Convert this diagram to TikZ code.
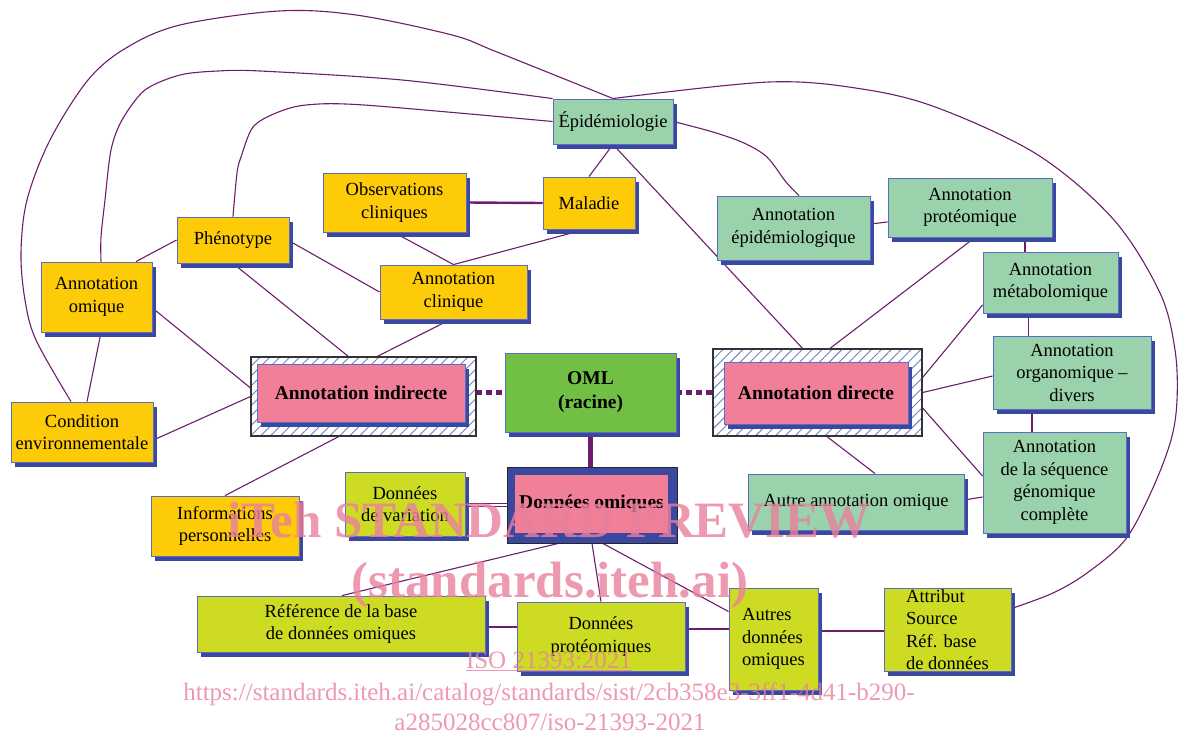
\documentclass[tikz,border=0pt]{standalone}
\usepackage{fontspec}
\setmainfont{Liberation Serif}
\usetikzlibrary{shadows,patterns.meta,backgrounds}
\definecolor{yel}{HTML}{FECB08}
\definecolor{mint}{HTML}{9AD2AB}
\definecolor{lime}{HTML}{CEDB23}
\definecolor{pinkc}{HTML}{F07F97}
\definecolor{omlg}{HTML}{71BF44}
\definecolor{shblue}{HTML}{3A48A0}
\definecolor{bord}{HTML}{5A6CC4}
\definecolor{linec}{HTML}{6C1D6E}
\definecolor{hatchc}{HTML}{6A80CC}
\definecolor{wm}{HTML}{E9809C}
\newcommand\dfont{\fontsize{18.5}{22.5}\selectfont}
\newcommand\bfont{\fontsize{19.5}{24}\selectfont\bfseries}
\tikzset{
  base/.style={draw=bord, line width=0.9pt, inner sep=0pt, align=center, font=\dfont,
    drop shadow={shadow xshift=4pt, shadow yshift=-5pt, fill=shblue, opacity=1}},
  yelbox/.style={base, fill=yel},
  mintbox/.style={base, fill=mint},
  limebox/.style={base, fill=lime},
  pinkbox/.style={base, fill=pinkc, font=\bfont},
  omlbox/.style={base, fill=omlg, font=\bfont},
  hatchbox/.style={draw=black!80, line width=1.2pt, inner sep=0pt, preaction={fill=white},
    pattern={Lines[angle=45,distance=7pt,line width=0.9pt]}, pattern color=hatchc},
  sz/.style 2 args={minimum width=#1pt, minimum height=#2pt},
  conn/.style={draw=linec, line width=1.1pt},
  thickdot/.style={draw=linec, line width=5pt, dash pattern=on 6pt off 4pt},
  wmtext/.style={text=wm, text opacity=0.8, inner sep=0pt, anchor=base},
}
\begin{document}
\begin{tikzpicture}[x=1pt,y=-1pt]
\useasboundingbox (0,0) rectangle (1178,736);
% yellow nodes
\node[yelbox, sz={111}{70}] (omi) at (96.5,297) {Annotation\\omique};
\node[yelbox, sz={112}{46}] (phe) at (233,240) {Phénotype};
\node[yelbox, sz={143}{59}] (obs) at (394.5,202.5) {Observations\\cliniques};
\node[yelbox, sz={92}{52}] (mal) at (589,203) {Maladie};
\node[yelbox, sz={147}{54}] (cli) at (453.5,292) {Annotation\\clinique};
\node[yelbox, sz={142}{60}] (cond) at (82,432) {Condition\\environnementale};
\node[yelbox, sz={148}{60}] (info) at (225,526) {Informations\\personnelles};
% mint nodes
\node[mintbox, sz={120}{45}] (epi) at (613,121.5) {Épidémiologie};
\node[mintbox, sz={153}{64}] (aepi) at (793.5,228) {Annotation\\épidémiologique};
\node[mintbox, sz={164}{59}] (prot) at (970,207.5) {Annotation\\protéomique};
\node[mintbox, sz={135}{61}] (meta) at (1050.5,282.5) {Annotation\\métabolomique};
\node[mintbox, sz={158}{73}] (orga) at (1072,372.5) {Annotation\\organomique –\\divers};
\node[mintbox, sz={143}{101}] (seq) at (1054.5,482.5) {Annotation\\de la séquence\\génomique\\complète};
\node[mintbox, sz={216}{56}] (autre) at (856,502) {Autre annotation omique};
% hatched frames
\node[hatchbox, sz={225}{79}] (indO) at (363.5,396.5) {};
\node[pinkbox, sz={208}{58}] (ind) at (361,393) {Annotation indirecte};
\node[hatchbox, sz={209}{87}] (dirO) at (817.5,392.5) {};
\node[pinkbox, sz={184}{62}] (dir) at (816,393) {Annotation directe};
% root
\node[omlbox, sz={171}{79}] (oml) at (590.5,392.5) {OML\\(racine)};
\node[draw=black!85, line width=1pt, fill=shblue, inner sep=0pt, sz={170}{76}] (domiO) at (592,505) {};
\node[fill=pinkc, inner sep=0pt, font=\bfont, sz={153}{58}] (domi) at (591.5,504) {Données omiques};
% lime nodes
\node[limebox, sz={120}{64}] (var) at (405,504) {Données\\de variation};
\node[limebox, sz={288}{56}] (ref) at (341,624) {Référence de la base\\de données omiques};
\node[limebox, sz={168}{69}] (dprot) at (601,636.5) {Données\\protéomiques};
\node[limebox, sz={89}{102}, align=left] (adom) at (773.5,639) {Autres\\données\\omiques};
\node[limebox, sz={127}{83}, align=left] (attr) at (947.5,629.5) {Attribut\\Source\\Réf. base\\de données};
% helper coordinates
\coordinate (attrC) at ([yshift=-21pt]attr.north east);
\coordinate (condC) at ([xshift=-11pt]cond.north);
\coordinate (omiC) at ([xshift=4.5pt]omi.north);
\coordinate (aepiC) at ([xshift=5.5pt]aepi.north);
\begin{scope}[on background layer]
% curves
\draw[conn] plot[smooth, tension=0.55] coordinates {(epi.north) (769,82) (862,89) (938,108) (1038,155) (1114,220) (1160,293) (1175,350) (1177,400) (1171,440) (1152,490) (1125,540) (1087,573) (1053,593) (attrC)};
\draw[conn] plot[smooth, tension=0.55] coordinates {(epi.north) (497,52) (452,35) (356,15) (279,11) (180,25) (126,48) (88,80) (50,140) (27,200) (21,253) (25,300) (36,340) (condC)};
\draw[conn] plot[smooth, tension=0.5] coordinates {(epi.north west) (402,80) (260,71) (218,71) (180,75) (145,90) (122,120) (111,150) (105,200) (101,237) (omiC)};
\draw[conn] plot[smooth, tension=0.5] coordinates {(epi.west) (364,105) (306,105) (276,113) (253,127) (241,157) (237,173) (phe.north)};
\draw[conn] plot[smooth, tension=0.5] coordinates {(epi.east) (713,132) (744,143) (767,157) (786,182) (aepiC)};
% straight connectors
\draw[conn] (epi.south) -- (mal.north);
\draw[conn] (epi.south) -- ([xshift=-15pt]dirO.north);
\draw[conn, line width=2.4pt] (obs.east) -- (mal.west);
\draw[conn] ([xshift=-0.5pt]obs.south) -- (cli.north);
\draw[conn] ([xshift=-4pt]mal.south) -- (cli.north);
\draw[conn] (phe.west) -- ([xshift=39.5pt]omi.north);
\draw[conn] ([yshift=-1pt]phe.east) -- (cli.west);
\draw[conn] (phe.south) -- ([xshift=-15pt]indO.north);
\draw[conn] ([xshift=-3pt]cli.south) -- ([xshift=13.5pt]indO.north);
\draw[conn] ([yshift=-11pt]omi.east) -- ([yshift=8.5pt]indO.west);
\draw[conn] ([xshift=4.5pt]omi.south) -- ([xshift=5pt]cond.north);
\draw[conn] ([yshift=-8pt]cond.east) -- (indO.west);
\draw[conn] ([xshift=-24.5pt]indO.south) -- (info.north);
\draw[thickdot] (indO.east |- oml.west) -- (oml.west);
\draw[thickdot] (oml.east) -- (dirO.west |- oml.east);
\draw[draw=linec, line width=4.5pt] (oml.south) -- (oml.south |- domiO.north);
\draw[draw=linec, line width=0.8pt, double=white, double distance=1.6pt] (var.east |- domiO.west) -- (domiO.west);
\draw[conn] ([xshift=-34pt]domiO.south) -- ([xshift=1pt]ref.north);
\draw[conn] (domiO.south) -- (dprot.north);
\draw[conn] ([xshift=11pt]domiO.south) -- ([yshift=-24pt]adom.north west);
\draw[conn] ([yshift=-3pt]ref.east) -- ([yshift=-3pt]ref.east -| dprot.west);
\draw[conn] ([yshift=7.5pt]dprot.east) -- ([yshift=7.5pt]dprot.east -| adom.west);
\draw[conn] ([yshift=8pt]adom.east) -- ([yshift=8pt]adom.east -| attr.west);
\draw[conn] ([xshift=9.5pt]dirO.south) -- ([xshift=19pt]autre.north);
\draw[conn] ([xshift=12.5pt]dirO.north) -- ([xshift=5pt]prot.south);
\draw[conn] ([yshift=15pt]dirO.east) -- ([yshift=-22.5pt]meta.west);
\draw[conn] (dirO.east) -- ([yshift=-3.5pt]orga.west);
\draw[conn] ([yshift=-15.5pt]dirO.east) -- ([yshift=6.5pt]seq.west);
\draw[conn] ([yshift=2pt]autre.east) -- ([yshift=-14.5pt]seq.west);
\draw[conn] ([yshift=4pt]aepi.east) -- ([yshift=-14.5pt]prot.west);
\draw[conn] ([xshift=55pt]prot.south) -- ([xshift=55pt]prot.south |- meta.north);
\draw[conn] ([xshift=-22pt]meta.south) -- ([xshift=-22pt]meta.south |- orga.north);
\draw[conn] ([xshift=-40pt]orga.south) -- ([xshift=-40pt]orga.south |- seq.north);
\end{scope}
% watermark
\node[wmtext, font=\fontsize{51}{55}\selectfont\bfseries] (wm1) at (549,537) {iTeh STANDARD PREVIEW};
\node[wmtext, font=\fontsize{51}{55}\selectfont\bfseries] (wm2) at (550,597) {(standards.iteh.ai)};
\node[wmtext, font=\fontsize{25}{28}\selectfont] (wm3) at (549,668) {\underline{ISO 21393:2021}};
\node[wmtext, font=\fontsize{25}{28}\selectfont] (wm4) at (549,700) {https://standards.iteh.ai/catalog/standards/sist/2cb358e3-3ff1-4d41-b290-};
\node[wmtext, font=\fontsize{25}{28}\selectfont] (wm5) at (550,730) {a285028cc807/iso-21393-2021};
\end{tikzpicture}
\end{document}
